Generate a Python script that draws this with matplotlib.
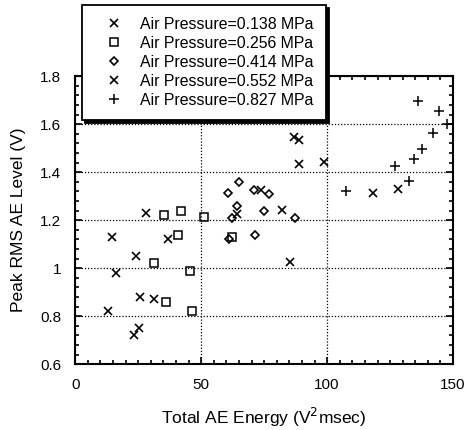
import numpy as np
from matplotlib import pyplot as plt
from matplotlib.ticker import MultipleLocator, FuncFormatter

plt.rcParams['font.family'] = ['Liberation Sans', 'DejaVu Sans']

# ---- data ----
SERIES_LABELS = [
    "Air Pressure=0.138 MPa",
    "Air Pressure=0.256 MPa",
    "Air Pressure=0.414 MPa",
    "Air Pressure=0.552 MPa",
    "Air Pressure=0.827 MPa",
]

energy_0138 = [13.2, 14.7, 16.0, 23.3, 24.2, 25.5, 25.9, 28.2, 31.1, 36.8]
level_0138 = [0.82, 1.13, 0.98, 0.72, 1.05, 0.75, 0.88, 1.23, 0.87, 1.12]

energy_0256 = [31.2, 35.1, 36.1, 40.7, 42.1, 45.4, 46.4, 51.1, 62.2]
level_0256 = [1.02, 1.22, 0.86, 1.14, 1.24, 0.99, 0.82, 1.215, 1.13]

energy_0414 = [60.8, 64.9, 70.9, 64.3, 62.2, 61.2, 71.2, 75.1, 77.1, 87.4]
level_0414 = [1.315, 1.36, 1.325, 1.26, 1.21, 1.12, 1.14, 1.24, 1.31, 1.21]

energy_0552 = [64.3, 73.8, 82.1, 85.4, 86.8, 88.8, 89.0, 98.9, 118.3, 128.2]
level_0552 = [1.225, 1.325, 1.244, 1.027, 1.545, 1.535, 1.432, 1.442, 1.315, 1.33]

energy_0827 = [107.3, 127.1, 132.4, 134.3, 136.1, 137.6, 141.9, 144.3, 147.6]
level_0827 = [1.32, 1.425, 1.365, 1.455, 1.695, 1.495, 1.565, 1.655, 1.60]

fig = plt.figure(figsize=(4.7, 4.3), dpi=100)
ax = fig.add_axes([0.16, 0.153, 0.804, 0.670])

style = dict(linestyle="none", color="black", mfc="none")
ax.plot(energy_0138, level_0138, marker="x", markersize=6, mew=1.2, label=SERIES_LABELS[0], **style)
ax.plot(energy_0256, level_0256, marker="s", markersize=6, mew=1.1, label=SERIES_LABELS[1], **style)
ax.plot(energy_0414, level_0414, marker="D", markersize=4.0, mew=1.2, label=SERIES_LABELS[2], **style)
ax.plot(energy_0552, level_0552, marker="x", markersize=6, mew=1.2, label=SERIES_LABELS[3], **style)
ax.plot(energy_0827, level_0827, marker="+", markersize=6.5, mew=1.1, label=SERIES_LABELS[4], **style)

ax.set_xlim(0, 150)
ax.set_ylim(0.6, 1.8)
ax.xaxis.set_major_locator(MultipleLocator(50))
ax.xaxis.set_minor_locator(MultipleLocator(5))
ax.yaxis.set_major_locator(MultipleLocator(0.2))
ax.yaxis.set_minor_locator(MultipleLocator(0.04))
ax.yaxis.set_major_formatter(FuncFormatter(lambda v, p: f"{v:g}"))

ax.tick_params(which="both", direction="in", top=True, right=True, width=1.2)
ax.tick_params(which="major", length=5, labelsize=11, pad=10)
ax.tick_params(which="minor", length=3)
for s in ax.spines.values():
    s.set_linewidth(1.5)

ax.grid(True, which="major", linestyle=(0, (1, 1.5)), color="black", linewidth=0.9)

ax.set_xlabel("Total AE Energy (V$^2$msec)", fontsize=12.5, labelpad=10)
ax.set_ylabel("Peak RMS AE Level (V)", fontsize=12.5, labelpad=10)

leg = fig.legend(
    loc="upper left",
    bbox_to_anchor=(0.174, 0.988),
    borderaxespad=0,
    fontsize=11.4,
    numpoints=1,
    handlelength=2.6,
    handletextpad=0.35,
    labelspacing=0.25,
    borderpad=0.75,
    fancybox=False,
    framealpha=1,
    edgecolor="black",
    shadow={"color": "black", "alpha": 1},
)
leg.get_frame().set_linewidth(1.3)

fig.savefig("out.png", dpi=100)
